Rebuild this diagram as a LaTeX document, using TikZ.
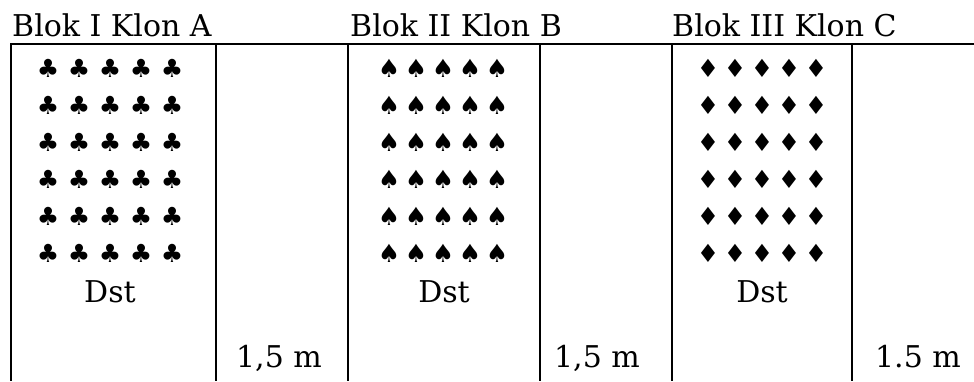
\documentclass[tikz,border=0pt]{standalone}
\usepackage{fontspec}
\setmainfont{DejaVu Serif}
\newfontfamily\suitfont{DejaVu Sans}
\usetikzlibrary{positioning}

\begin{document}
\begin{tikzpicture}[
    x=1pt, y=-1pt,
    wall/.style={line width=2pt, black},
    txt/.style={font=\fontsize{30}{36}\selectfont, inner sep=0pt, anchor=base},
    suit/.style={font=\suitfont\fontsize{25}{25}\selectfont, inner sep=0pt}
]
\useasboundingbox (0,0) rectangle (974,381);

% top edge and plot borders
\draw[wall] (10,44) -- (974,44);
\foreach \px in {11,216,348,540,672,852}
    \draw[wall] (\px,44) -- (\px,381);

% block titles
\node[txt, anchor=base west] (blokA) at (12,36) {Blok I Klon A};
\node[txt, anchor=base west] (blokB) at (350,36) {Blok II Klon B};
\node[txt, anchor=base west] (blokC) at (672,36) {Blok III Klon C};

% plants, 6 rows x 5
\foreach \blk/\cx/\dx/\sym in {a/110/31/♣, b/443/27/♠, c/762/27/♦} {
    \foreach \r in {0,...,5} {
        \foreach \c in {-2,...,2} {
            \node[suit] (\blk-\r-\c) at ({\cx+\c*\dx},{68+\r*37}) {\sym};
        }
    }
}

% labels under the plants
\node[txt] (dstA) at (110,302) {Dst};
\node[txt] (dstB) at (444,302) {Dst};
\node[txt] (dstC) at (762,302) {Dst};

% spacing between blocks
\node[txt] (gapA) at (279,367) {1,5 m};
\node[txt] (gapB) at (597,367) {1,5 m};
\node[txt] (gapC) at (918,367) {1.5 m};

\end{tikzpicture}
\end{document}
